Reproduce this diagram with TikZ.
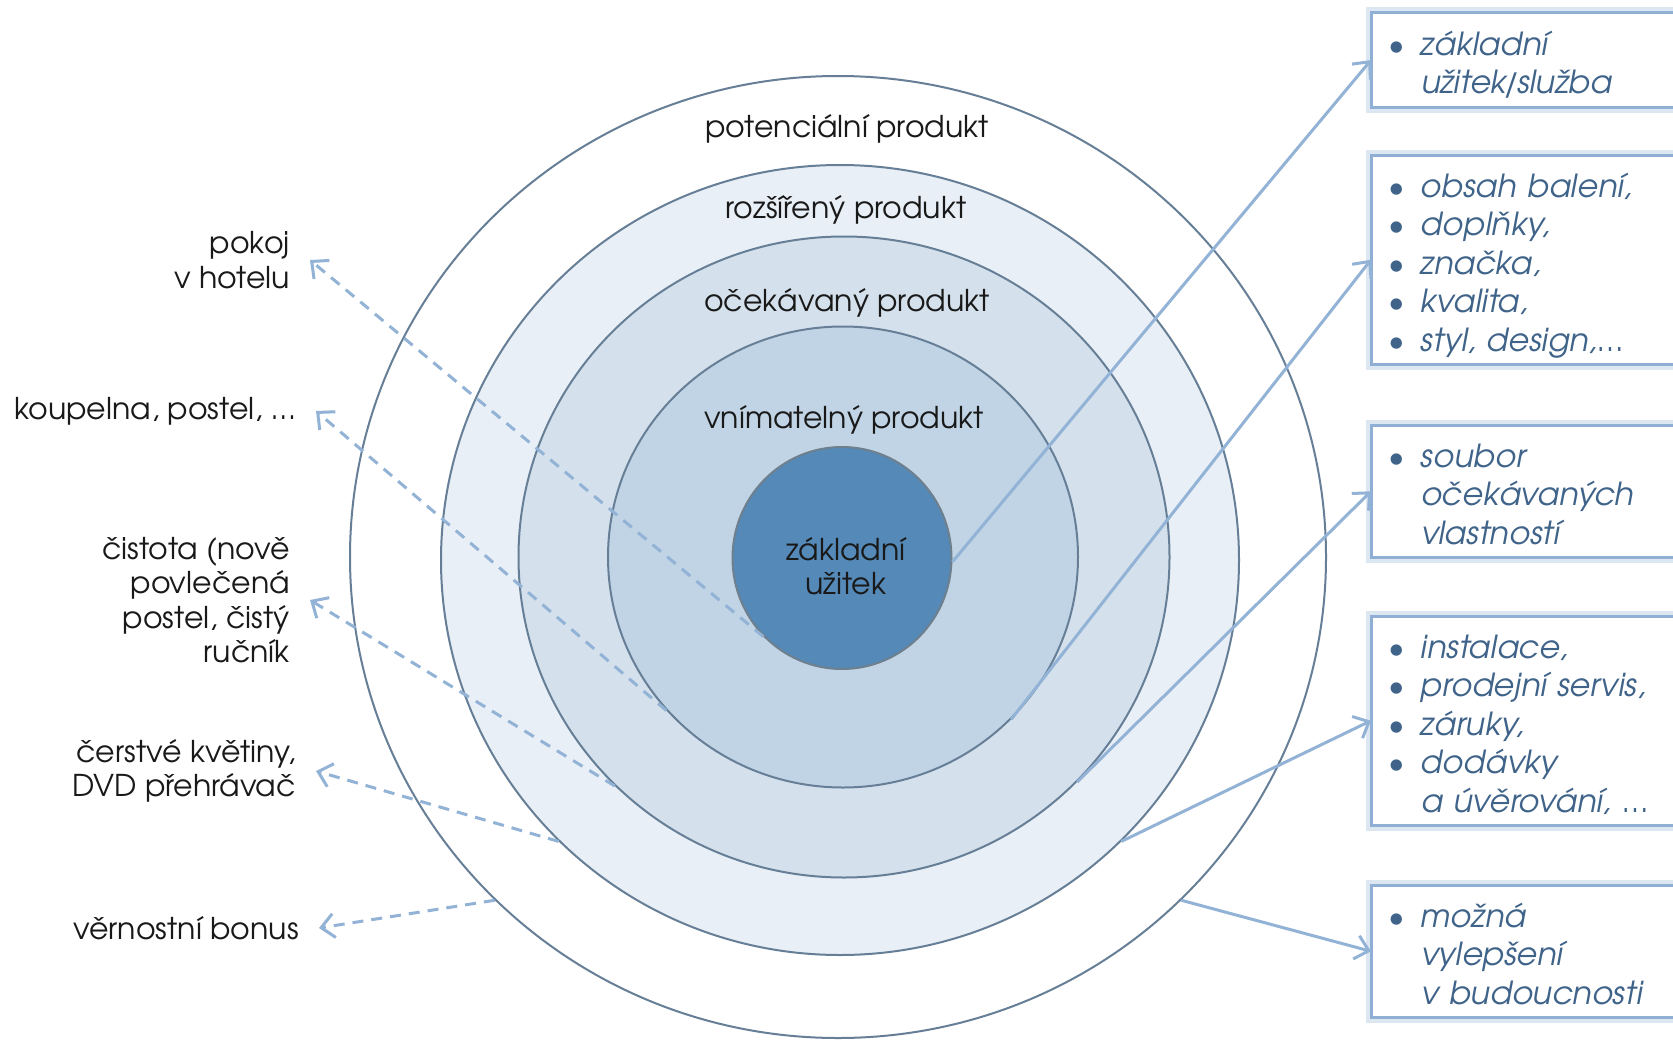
\documentclass[tikz,border=0pt]{standalone}
\usepackage{fontspec}
\setmainfont{TeX Gyre Adventor}
\usepackage{tikz}
\usetikzlibrary{arrows.meta,positioning,shapes.geometric}

\definecolor{ringline}{HTML}{667F97}
\definecolor{ringR}{HTML}{E9EFF6}
\definecolor{ringO}{HTML}{D4E1EC}
\definecolor{ringV}{HTML}{C1D4E5}
\definecolor{coreblue}{HTML}{5489B8}
\definecolor{coreline}{HTML}{6E7F8E}
\definecolor{linkblue}{HTML}{93B3D6}
\definecolor{boxblue}{HTML}{8FB0D4}
\definecolor{boxtext}{HTML}{3F6389}

\newcommand{\boxstrut}{\rule[-7.4pt]{0pt}{38.4pt}}
\newcommand{\topstrut}{\rule{0pt}{36.4pt}}
\newcommand{\bul}{\boxstrut\makebox[33pt][l]{\textbullet}}
\newcommand{\ind}{\boxstrut\hspace*{33pt}}

\tikzset{
  ring/.style={shape=ellipse,draw=ringline,line width=2pt,inner sep=0pt},
  ringlbl/.style={font=\fontsize{30}{34.5}\selectfont,text=black!90,align=center},
  lbl/.style={font=\fontsize{30}{34.5}\selectfont,text=black!90,align=right,anchor=east,inner xsep=20pt},
  box/.style={draw=boxblue,line width=3pt,fill=white,anchor=north west,outer sep=0pt,
    inner xsep=17pt,inner ysep=6pt,text width=366pt,align=left,
    font=\fontsize{31.8}{38.4}\selectfont\itshape,text=boxtext,
    preaction={draw=boxblue!30,line width=11pt}},
  link/.style={draw=linkblue,line width=3pt,-{Straight Barb[length=13pt,width=24pt,line width=3pt]}},
  hint/.style={link,dash pattern=on 11pt off 8pt},
}

\begin{document}
\begin{tikzpicture}[x=1pt,y=-1pt]
        \clip (0,0) rectangle (1673,1041);
        \fill[white] (0,0) rectangle (1673,1041);

        % rings
        \node[ring,fill=white,minimum width=976pt,minimum height=962pt] (P) at (838,557) {};
        \node[ring,fill=ringR,minimum width=798pt,minimum height=790pt] (R) at (840,560) {};
        \node[ring,fill=ringO,minimum width=651pt,minimum height=641pt] (O) at (844,557) {};
        \node[ring,fill=ringV,minimum width=470pt,minimum height=461pt] (V) at (843,557) {};
        \node[ring,fill=coreblue,draw=coreline,minimum width=219pt,minimum height=222pt] (Z) at (842,558) {};

        \node[ringlbl] (Zt) at (846,566) {základní\\užitek};
        \node[ringlbl] (Pt) at (847,129) {potenciální produkt};
        \node[ringlbl] (Rt) at (846,210) {rozšířený produkt};
        \node[ringlbl] (Ot) at (847,303) {očekávaný produkt};
        \node[ringlbl] (Vt) at (844,420) {vnímatelný produkt};

        % examples on the left
        \node[lbl] (L1) at (310,260) {pokoj\\v hotelu};
        \node[lbl] (L2) at (316,411) {koupelna, postel, …};
        \node[lbl] (L3) at (310,600) {čistota (nově\\povlečená\\postel, čistý\\ručník};
        \node[lbl] (L4) at (316,771) {čerstvé květiny,\\DVD přehrávač};
        \node[lbl] (L5) at (319,928) {věrnostní bonus};

        \draw[hint] (Z.225) -- (L1.east);
        \draw[hint] (V.221) -- (L2.east);
        \draw[hint] (O.225) -- (L3.east);
        \draw[hint] (R.225) -- (L4.east);
        \draw[hint] (P.225) -- (L5.east);

        % levels on the right
        \node[box] (B1) at (1371,13) {\topstrut\bul základní\\\ind užitek\kern-3pt/\kern-3pt služba};
        \node[box] (B2) at (1371,155) {\topstrut\bul obsah balení,\\\bul doplňky,\\\bul značka,\\\bul kvalita,\\\bul styl, design,…};
        \node[box] (B3) at (1371,425) {\topstrut\bul soubor\\\ind očekávaných\\\ind vlastností};
        \node[box] (B4) at (1371,616) {\topstrut\bul instalace,\\\bul prodejní servis,\\\bul záruky,\\\bul dodávky\\\ind a úvěrování, …};
        \node[box] (B5) at (1371,885) {\topstrut\bul možná\\\ind vylepšení\\\ind v budoucnosti};

        \draw[link] (Z.-2) -- (B1.west);
        \draw[link] (V.-44) -- (B2.west);
        \draw[link] (O.-44) -- (B3.west);
        \draw[link] (R.-45) -- (B4.west);
        \draw[link] (P.-45) -- (B5.west);
\end{tikzpicture}
\end{document}
